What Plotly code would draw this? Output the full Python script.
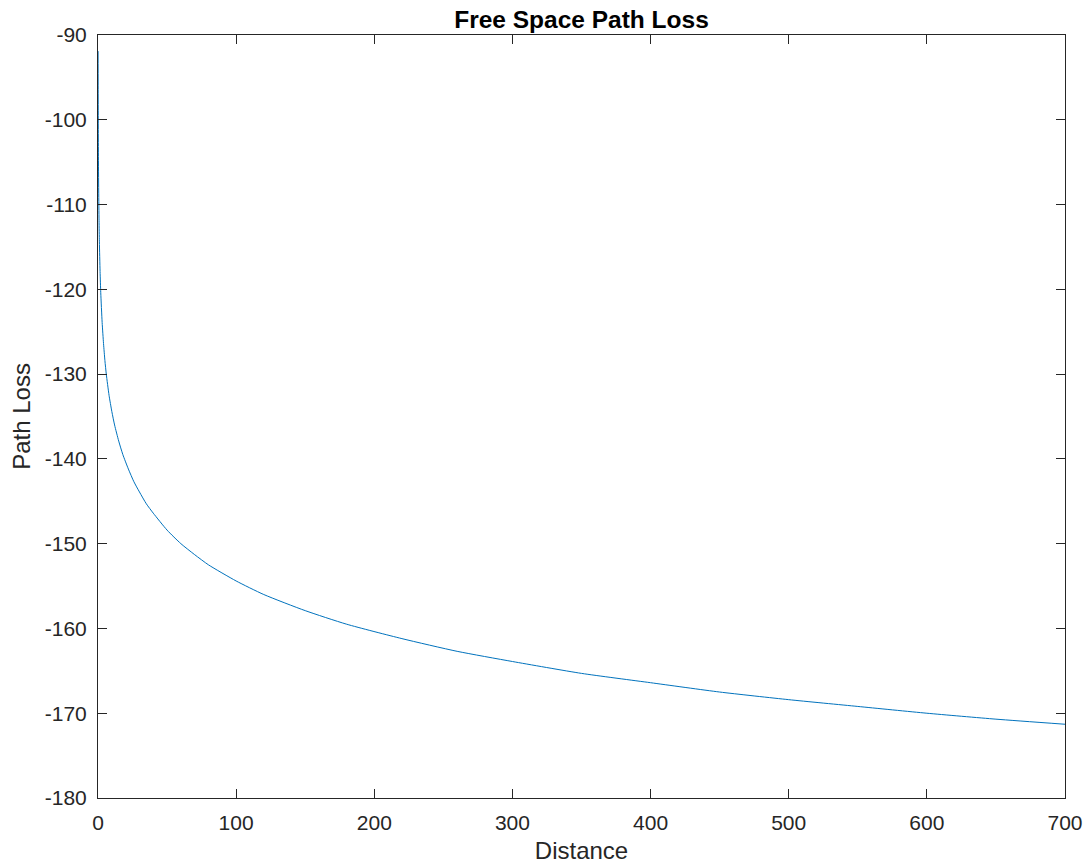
import plotly.graph_objects as go

# Distance values (x) and path loss readings (y)
distance = [0.075, 0.12, 0.2, 0.3, 0.5, 0.75, 1, 1.5, 2, 3, 4, 5, 6, 8, 10, 12, 15, 18,
            22, 26, 30, 35, 40, 50, 60, 70, 80, 100, 120, 150, 180, 220, 260, 300,
            350, 400, 450, 500, 550, 600, 650, 700]
path_loss = [-91.9, -96.0, -100.4, -103.9, -108.4, -111.9, -114.4, -117.9, -120.4, -123.9,
             -126.4, -128.4, -130.0, -132.5, -134.4, -136.0, -137.9, -139.5, -141.2, -142.7,
             -143.9, -145.3, -146.4, -148.4, -150.0, -151.3, -152.5, -154.4, -156.0, -157.9,
             -159.5, -161.2, -162.7, -163.9, -165.3, -166.4, -167.5, -168.4, -169.2, -170.0,
             -170.7, -171.3]

x_ticks = [0, 100, 200, 300, 400, 500, 600, 700]
y_ticks = [-180, -170, -160, -150, -140, -130, -120, -110, -100, -90]

title_text = "Free Space Path Loss"
x_title = "Distance"
y_title = "Path Loss"

axis_color = "#262626"
font_family = "Liberation Sans, Arial, Helvetica, sans-serif"

fig = go.Figure()
fig.add_trace(go.Scatter(
    x=distance, y=path_loss, mode="lines",
    line=dict(color="#0072BD", width=1, shape="spline", smoothing=0.6),
    showlegend=False, hoverinfo="x+y",
))

axis_common = dict(
    showgrid=False, zeroline=False, showline=True, linecolor=axis_color, linewidth=1,
    mirror="ticks", ticks="inside", ticklen=9, tickwidth=1, tickcolor=axis_color,
    tickfont=dict(family=font_family, size=21, color=axis_color),
    automargin=False,
)

fig.update_layout(
    width=1088, height=865,
    margin=dict(l=98, r=23, t=35, b=67),
    paper_bgcolor="white", plot_bgcolor="white",
    title=dict(text="<b>" + title_text + "</b>", x=(98 + 1065) / 2 / 1088, xanchor="center",
               y=1 - 19 / 865, yanchor="middle", automargin=False,
               font=dict(family=font_family, size=24.5, color="black")),
    xaxis=dict(range=[0, 700], tickvals=x_ticks, ticktext=[str(v) for v in x_ticks],
               ticklabelstandoff=6,
               title=dict(text=x_title, standoff=8,
                          font=dict(family=font_family, size=24, color=axis_color)),
               **axis_common),
    yaxis=dict(range=[-180, -90], tickvals=y_ticks, ticktext=[str(v) for v in y_ticks],
               ticklabelstandoff=6,
               title=dict(text=y_title, standoff=7,
                          font=dict(family=font_family, size=24, color=axis_color)),
               **axis_common),
)

fig.write_html("out.html")
